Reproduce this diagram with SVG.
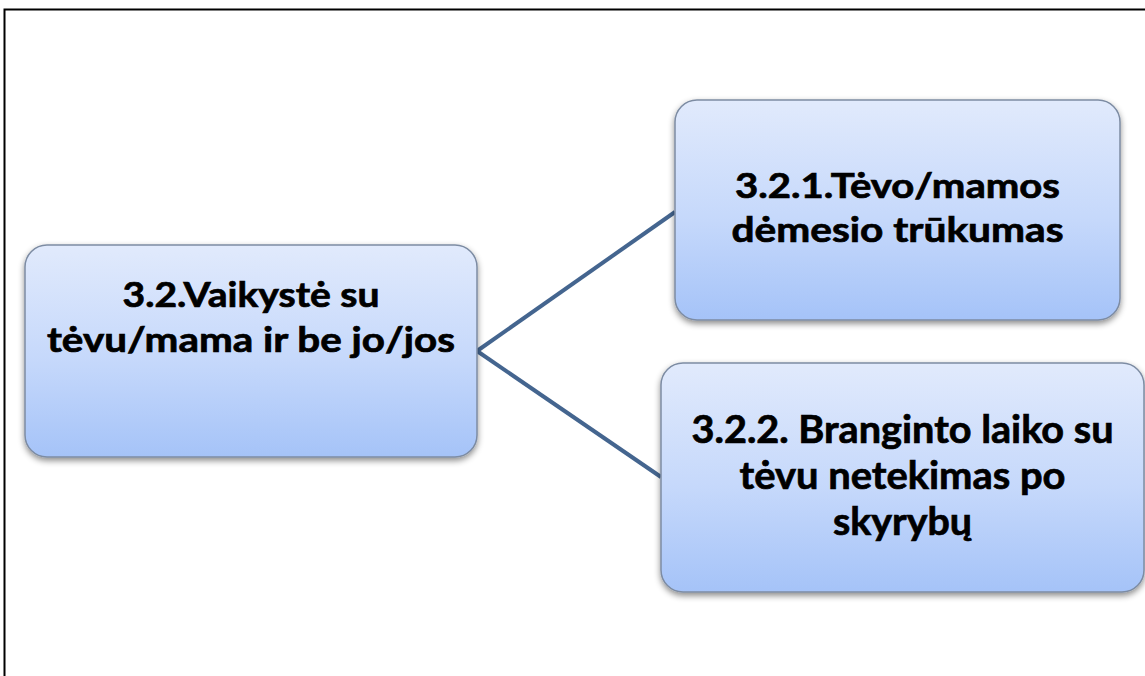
<svg xmlns="http://www.w3.org/2000/svg" width="1145" height="676" viewBox="0 0 1145 676">
<defs>
<linearGradient id="g" x1="0" y1="0" x2="0" y2="1">
<stop offset="0" stop-color="#e1eafc"/>
<stop offset="0.55" stop-color="#c5d8fb"/>
<stop offset="1" stop-color="#a5c3f8"/>
</linearGradient>
<filter id="sh" x="-10%" y="-10%" width="120%" height="130%">
<feDropShadow dx="0" dy="3" stdDeviation="3" flood-color="#000" flood-opacity="0.45"/>
</filter>
<style>
.box{fill:url(#g);stroke:#7d8ca3;stroke-width:1.5;filter:url(#sh)}
.t{font-family:Lato,"Open Sans","Liberation Sans",sans-serif;font-weight:bold;fill:#000;stroke:#000;stroke-width:0.7;text-anchor:middle}
.c{stroke:#44658f;stroke-width:4;fill:none}
</style>
</defs>
<rect width="1145" height="676" fill="#fff"/>
<path d="M4.5 700 V9.5 H1160" fill="none" stroke="#000" stroke-width="2"/>
<g id="connectors">
<line class="c" x1="477" y1="351" x2="675" y2="212"/>
<line class="c" x1="477" y1="351" x2="661" y2="477"/>
</g>
<g id="n1">
<rect class="box" x="25" y="245" width="452" height="212" rx="22"/>
<text class="t" font-size="35" x="251" y="307" textLength="257" lengthAdjust="spacingAndGlyphs">3.2.Vaikystė su</text>
<text class="t" font-size="35" x="251" y="352" textLength="408" lengthAdjust="spacingAndGlyphs">tėvu/mama ir be jo/jos</text>
</g>
<g id="n2">
<rect class="box" x="675" y="100" width="445" height="220" rx="22"/>
<text class="t" font-size="35" x="897.5" y="198" textLength="325" lengthAdjust="spacingAndGlyphs">3.2.1.Tėvo/mamos</text>
<text class="t" font-size="35" x="897.5" y="242" textLength="332" lengthAdjust="spacingAndGlyphs">dėmesio trūkumas</text>
</g>
<g id="n3">
<rect class="box" x="661" y="363" width="483" height="229" rx="22"/>
<text class="t" font-size="39" x="902.5" y="443" textLength="422" lengthAdjust="spacingAndGlyphs">3.2.2. Branginto laiko su</text>
<text class="t" font-size="39" x="902.5" y="489" textLength="326" lengthAdjust="spacingAndGlyphs">tėvu netekimas po</text>
<text class="t" font-size="39" x="902.5" y="535" textLength="139" lengthAdjust="spacingAndGlyphs">skyrybų</text>
</g>
</svg>
